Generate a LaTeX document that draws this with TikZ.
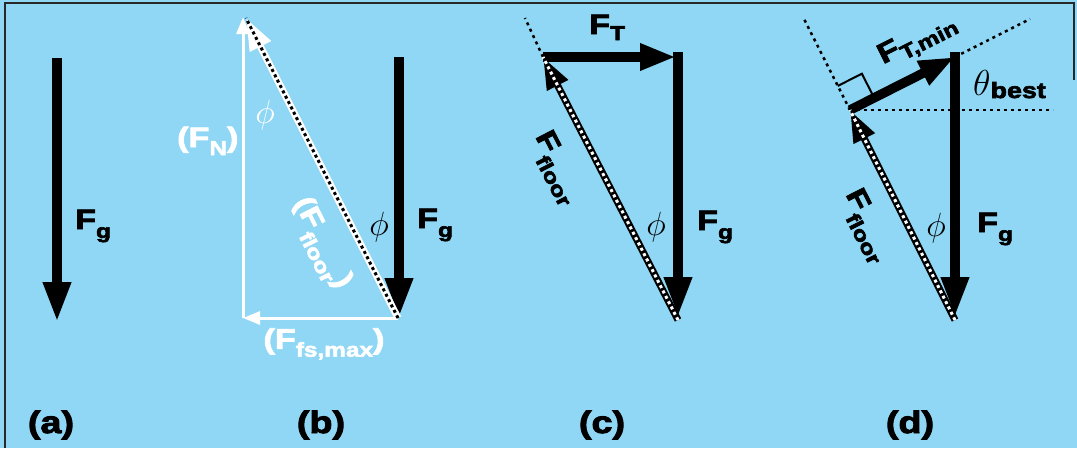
\documentclass[tikz,border=0pt]{standalone}
\usepackage{fontspec}
\usepackage{graphicx}
\usetikzlibrary{arrows.meta}
\newfontfamily\blk[FakeStretch=1.22,FakeBold=3]{Liberation Sans}
\definecolor{bg}{RGB}{143,215,244}
\definecolor{frm}{RGB}{40,40,40}
\newcommand\bigF{\fontsize{28}{28}\selectfont}
\newcommand\subsz{\fontsize{20}{20}\selectfont}
\newcommand\FS[2][9pt]{{\bigF F}\raisebox{-#1}{\subsz #2}}
\newcommand\phisym{\scalebox{1.35}{\Huge$\phi$}}
\begin{document}
\begin{tikzpicture}[x=1pt,y=-1pt,
  lab/.style={inner sep=0pt, font=\blk\bfseries},
  plab/.style={inner sep=0pt, font=\blk\bfseries\fontsize{31}{31}\selectfont},
  fat/.style={line width=9.5pt, -{Triangle[length=40pt,width=26pt]}},
  fatsm/.style={line width=9.5pt, -{Triangle[length=36pt,width=25pt]}},
  wthin/.style={white, line width=3pt, -{Triangle[length=17pt,width=13pt]}},
  wdiag/.style={white, line width=7pt, -{Triangle[length=32pt,width=22pt]}},
  bdiag/.style={black, line width=7pt, -{Triangle[length=32pt,width=22pt]}},
  bdots/.style={black, line width=3pt, dash pattern=on 3pt off 3pt},
  wdots/.style={white, line width=3pt, dash pattern=on 3pt off 3pt},
  guide/.style={black, line width=2.5pt, dash pattern=on 3pt off 4pt},
  phil/.style={inner sep=0pt}]
\fill[bg] (0,0) rectangle (1077,448);
\useasboundingbox (0,0) rectangle (1077,448);
\coordinate (f1) at (5,448); \coordinate (f2) at (5,3);
\coordinate (f3) at (1074,3); \coordinate (f4) at (1074,80);
\draw[line width=1.5pt, frm] (f1) -- (f2) -- (f3) -- (f4);

% ---------- (a)
\coordinate (a1) at (57,58); \coordinate (a2) at (57,322);
\draw[fat] (a1) -- (a2);
\node[lab, anchor=base west] (fga) at (75,229) {\FS{g}};
\node[plab] (la) at (51,425) {(a)};

% ---------- (b)
\coordinate (b0) at (243,318); \coordinate (bt) at (243,17);
\coordinate (br) at (398,318); \coordinate (bd) at (246,18);
\coordinate (bg1) at (399,57); \coordinate (bg2) at (399,318);
\draw[wthin] (b0) -- (bt);
\draw[wthin] (br) -- (b0);
\draw[fat] (bg1) -- (bg2);
\draw[wdiag] (br) -- (bd);
\draw[bdots] (br) -- (bd);
\node[phil, white] (phb1) at (265,115) {\phisym};
\node[phil] (phb2) at (379,227) {\phisym};
\node[lab, anchor=base west] (fgb) at (417,228) {\FS{g}};
\node[lab, white, anchor=base west] (fnb) at (177,147) {{\bigF(}\FS[8pt]{N}{\bigF)}};
\node[lab, white] (ffs) at (324,344) {{\bigF(}\FS[8pt]{fs,max}{\bigF)}};
\node[lab, white, rotate=-63.2] (flb) at (320,244) {{\bigF(}\FS[11pt]{floor}{\bigF)}};
\node[plab] (lb) at (321,425) {(b)};

% ---------- (c)
\coordinate (cP) at (543,57); \coordinate (cT) at (676,57);
\coordinate (cQ) at (678,52); \coordinate (cG) at (678,317);
\coordinate (cB) at (678,320); \coordinate (cX) at (525,18);
\draw[guide] (cP) -- (cX);
\draw[fat] (cQ) -- (cG);
\draw[fatsm] (cP) -- (cT);
\draw[bdiag] (cB) -- (cP);
\draw[wdots] (cB) -- (cP);
\node[phil] (phc) at (656,227) {\phisym};
\node[lab, anchor=base west] (fgc) at (697,230) {\FS{g}};
\node[lab, anchor=base west] (ftc) at (589,34) {\FS[6pt]{T}};
\node[lab, rotate=-62.6] (flc) at (556,168) {\FS[11pt]{floor}};
\node[plab] (lc) at (602,425) {(c)};

% ---------- (d)
\coordinate (dP) at (850,110); \coordinate (dQ) at (955,57);
\coordinate (dQs) at (955,52); \coordinate (dG) at (955,317);
\coordinate (dB) at (955,320);
\coordinate (dX1) at (803,17); \coordinate (dX2) at (1030,19);
\coordinate (dH) at (1053,110);
\coordinate (m1) at (837.8,85.9); \coordinate (m2) at (861.9,73.7);
\coordinate (m3) at (874.1,97.8);
\draw[guide] (dP) -- (dX1);
\draw[guide] (dQ) -- (dX2);
\draw[guide] (dP) -- (dH);
\draw[black, line width=2pt] (m1) -- (m2) -- (m3);
\draw[fat] (dQs) -- (dG);
\draw[fatsm] (dP) -- (dQ);
\draw[bdiag] (dB) -- (dP);
\draw[wdots] (dB) -- (dP);
\node[phil] (phd) at (936,228) {\phisym};
\node[lab, anchor=base west] (fgd) at (977,232) {\FS{g}};
\node[lab, rotate=26.8] (ftd) at (918,41) {\FS[6pt]{T,min}};
\node[lab, rotate=-63.2] (fld) at (866,226) {\FS[11pt]{floor}};
\node[inner sep=0pt, anchor=base west] (thd) at (973,95) {\scalebox{1.45}{\Huge$\theta$}\raisebox{-3pt}{\blk\bfseries\fontsize{22}{22}\selectfont best}};
\node[plab] (ld) at (910,425) {(d)};
\end{tikzpicture}
\end{document}
